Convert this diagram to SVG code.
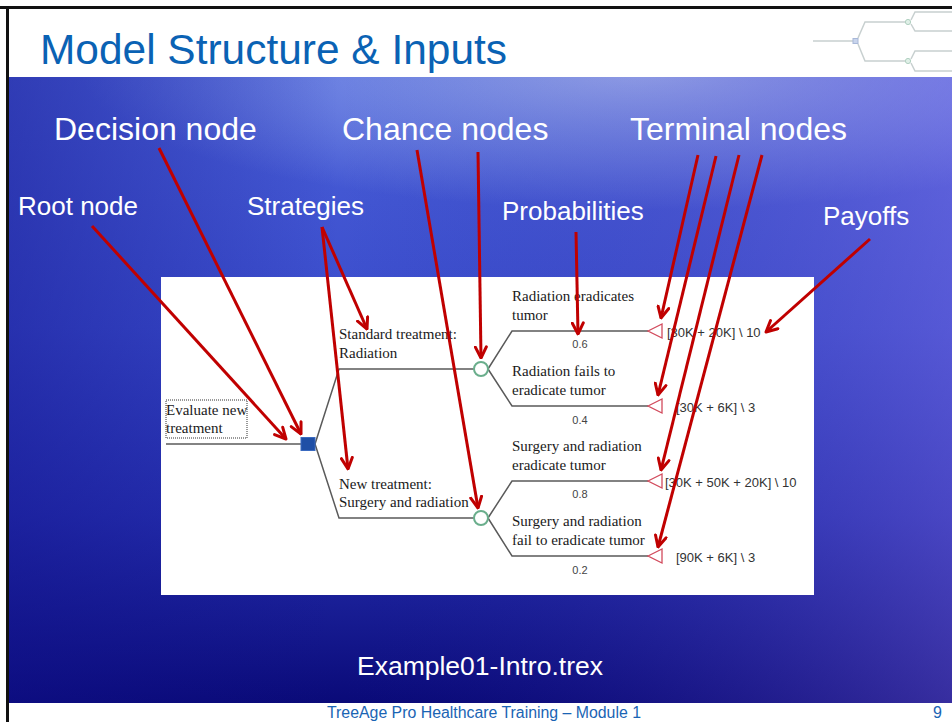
<svg xmlns="http://www.w3.org/2000/svg" width="952" height="722" viewBox="0 0 952 722">
  <defs>
    <linearGradient id="bgV" x1="0" y1="0" x2="0" y2="1">
      <stop offset="0" stop-color="#4a60d8"/>
      <stop offset="0.4" stop-color="#3a4ccc"/>
      <stop offset="0.7" stop-color="#2630b0"/>
      <stop offset="1" stop-color="#0a0a78"/>
    </linearGradient>
    <linearGradient id="bgH" x1="0" y1="0" x2="1" y2="0">
      <stop offset="0" stop-color="#10108a" stop-opacity="0.45"/>
      <stop offset="0.35" stop-color="#10108a" stop-opacity="0"/>
      <stop offset="1" stop-color="#8a70e8" stop-opacity="0.35"/>
    </linearGradient>
    <radialGradient id="glow" cx="0.5" cy="0.5" r="0.5">
      <stop offset="0" stop-color="#b8c8f4" stop-opacity="0.75"/>
      <stop offset="0.6" stop-color="#a0b4f0" stop-opacity="0.35"/>
      <stop offset="1" stop-color="#a0b4f0" stop-opacity="0"/>
    </radialGradient>
    <clipPath id="bandClip">
      <rect x="9" y="77" width="943" height="626"/>
    </clipPath>
    <marker id="head" viewBox="0 0 14 14" refX="12.5" refY="7" markerWidth="14" markerHeight="14" markerUnits="userSpaceOnUse" orient="auto">
      <path d="M1.5,1.5 L12.5,7 L1.5,12.5" fill="none" stroke="#c00000" stroke-width="3" stroke-linecap="round" stroke-linejoin="round"/>
    </marker>
  </defs>
  <style>
    .callout { font-family: "Liberation Sans", Arial, sans-serif; fill: #ffffff; }
    .big { font-size: 32px; }
    .mid { font-size: 26px; }
    .serif { font-family: "Liberation Serif", "Times New Roman", serif; font-size: 15px; fill: #1a1a1a; }
    .pay { font-family: "Liberation Sans", Arial, sans-serif; font-size: 13px; fill: #333333; }
    .prob { font-family: "Liberation Sans", Arial, sans-serif; font-size: 11px; fill: #444444; text-anchor: middle; }
    .branch { fill: none; stroke: #5a5a5a; stroke-width: 1.5; }
    .chance { fill: #ffffff; stroke: #6aae8c; stroke-width: 2; }
    .term { fill: #ffffff; stroke: #d24a5c; stroke-width: 1.3; }
    .logo { fill: none; stroke: #c8d0d0; stroke-width: 1.5; }
    .arrow { fill: none; stroke: #c00000; stroke-width: 3; marker-end: url(#head); }
  </style>

  <!-- slide background -->
  <rect x="0" y="0" width="952" height="722" fill="#ffffff"/>
  <g clip-path="url(#bandClip)">
    <rect x="9" y="77" width="943" height="626" fill="url(#bgV)"/>
    <ellipse cx="640" cy="70" rx="560" ry="140" fill="url(#glow)"/>
    <rect x="9" y="77" width="943" height="626" fill="url(#bgH)"/>
  </g>
  <rect x="0" y="6" width="952" height="3" fill="#111111"/>
  <rect x="6" y="6" width="3" height="716" fill="#111111"/>

  <!-- title -->
  <text x="40" y="64" font-family="'Liberation Sans', Arial, sans-serif" font-size="42.5" fill="#0a62b4" textLength="467" lengthAdjust="spacingAndGlyphs">Model Structure &amp; Inputs</text>

  <!-- small tree emblem, top right -->
  <g id="emblem">
    <path class="logo" d="M813,41 H853 M858,38 L865,22 H905 M911,20 L915,12 H952 M911,24 L915,31 H952 M858,44 L865,61 H905 M911,59 L915,51 H952 M911,63 L915,71 H952"/>
    <rect x="853" y="38.5" width="5" height="5" fill="#c8d4ec" stroke="#a8b8d8" stroke-width="1"/>
    <circle cx="908" cy="22" r="2.6" fill="#e0f0e8" stroke="#b0d0c0" stroke-width="1"/>
    <circle cx="908" cy="61" r="2.6" fill="#e0f0e8" stroke="#b0d0c0" stroke-width="1"/>
  </g>

  <!-- callout labels -->
  <g id="label-decision"><text class="callout big" x="54" y="140">Decision node</text></g>
  <g id="label-chance"><text class="callout big" x="342" y="140">Chance nodes</text></g>
  <g id="label-terminal"><text class="callout big" x="630" y="140">Terminal nodes</text></g>
  <g id="label-root"><text class="callout mid" x="18" y="215">Root node</text></g>
  <g id="label-strategies"><text class="callout mid" x="247" y="215">Strategies</text></g>
  <g id="label-probabilities"><text class="callout mid" x="502" y="220">Probabilities</text></g>
  <g id="label-payoffs"><text class="callout mid" x="823" y="225">Payoffs</text></g>

  <!-- tree panel -->
  <rect x="161" y="277" width="653" height="318" fill="#ffffff"/>

  <g id="tree-connectors">
    <path class="branch" d="M166,444 H301"/>
    <path class="branch" d="M315,444 L339,369 H474"/>
    <path class="branch" d="M315,444 L339,518 H474"/>
    <path class="branch" d="M488,369 L512,331 H648"/>
    <path class="branch" d="M488,369 L512,406 H648"/>
    <path class="branch" d="M488,518 L512,481 H648" stroke="#222222"/>
    <path class="branch" d="M488,518 L512,556 H648"/>
  </g>

  <g id="node-root">
    <rect x="166" y="400" width="81" height="38" fill="none" stroke="#333333" stroke-width="1" stroke-dasharray="1,1"/>
    <text class="serif" x="166" y="415">Evaluate new</text>
    <text class="serif" x="166" y="433">treatment</text>
  </g>

  <g id="node-decision">
    <rect x="301" y="437.5" width="14" height="13" fill="#1f4fa6" stroke="#3a6ac0" stroke-width="1"/>
  </g>

  <g id="strategy-standard">
    <text class="serif" x="339" y="339">Standard treatment:</text>
    <text class="serif" x="339" y="358">Radiation</text>
  </g>
  <g id="strategy-new">
    <text class="serif" x="339" y="489">New treatment:</text>
    <text class="serif" x="339" y="507">Surgery and radiation</text>
  </g>

  <g id="node-chance-1"><circle class="chance" cx="481" cy="369" r="7"/></g>
  <g id="node-chance-2"><circle class="chance" cx="481" cy="518" r="7"/></g>

  <g id="outcome-1">
    <text class="serif" x="512" y="301">Radiation eradicates</text>
    <text class="serif" x="512" y="320">tumor</text>
    <text class="prob" x="580" y="348">0.6</text>
    <polygon class="term" points="648,331 662,324 662,338"/>
    <text class="pay" x="667" y="337">[30K + 20K] \ 10</text>
  </g>
  <g id="outcome-2">
    <text class="serif" x="512" y="376">Radiation fails to</text>
    <text class="serif" x="512" y="395">eradicate tumor</text>
    <text class="prob" x="580" y="424">0.4</text>
    <polygon class="term" points="648,406 662,399 662,413"/>
    <text class="pay" x="676" y="412">[30K + 6K] \ 3</text>
  </g>
  <g id="outcome-3">
    <text class="serif" x="512" y="451">Surgery and radiation</text>
    <text class="serif" x="512" y="470">eradicate tumor</text>
    <text class="prob" x="580" y="498">0.8</text>
    <polygon class="term" points="648,481 662,474 662,488"/>
    <text class="pay" x="665" y="487">[30K + 50K + 20K] \ 10</text>
  </g>
  <g id="outcome-4">
    <text class="serif" x="512" y="526">Surgery and radiation</text>
    <text class="serif" x="512" y="545">fail to eradicate tumor</text>
    <text class="prob" x="580" y="574">0.2</text>
    <polygon class="term" points="648,556 662,549 662,563"/>
    <text class="pay" x="676" y="562">[90K + 6K] \ 3</text>
  </g>

  <!-- callout arrows -->
  <g id="callout-arrows">
    <line class="arrow" x1="92" y1="226" x2="286" y2="439"/>
    <line class="arrow" x1="159" y1="148" x2="301" y2="434"/>
    <line class="arrow" x1="322" y1="227" x2="367" y2="329"/>
    <line class="arrow" x1="322" y1="227" x2="348" y2="469"/>
    <line class="arrow" x1="478" y1="152" x2="481" y2="358"/>
    <line class="arrow" x1="417" y1="150" x2="478" y2="508"/>
    <line class="arrow" x1="576" y1="232" x2="578" y2="334"/>
    <line class="arrow" x1="698" y1="155" x2="661" y2="318"/>
    <line class="arrow" x1="716" y1="156" x2="658" y2="395"/>
    <line class="arrow" x1="739" y1="155" x2="661" y2="470"/>
    <line class="arrow" x1="762" y1="155" x2="658" y2="547"/>
    <line class="arrow" x1="870" y1="239" x2="766" y2="332"/>
  </g>

  <!-- file name and footer -->
  <text x="357" y="675" font-family="'Liberation Sans', Arial, sans-serif" font-size="26.5" fill="#ffffff">Example01-Intro.trex</text>
  <text x="327" y="718" font-family="'Liberation Sans', Arial, sans-serif" font-size="16" fill="#1a64b4" textLength="314" lengthAdjust="spacingAndGlyphs">TreeAge Pro Healthcare Training – Module 1</text>
  <text x="933" y="718" font-family="'Liberation Sans', Arial, sans-serif" font-size="16" fill="#1a64b4">9</text>
</svg>
